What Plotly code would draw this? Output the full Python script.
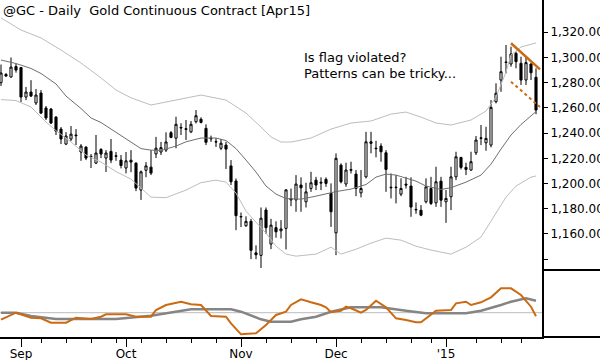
import plotly.graph_objects as go

# ---------------- data ----------------
open_ = [1280.0, 1286.5, 1284.5, 1292.8, 1292.0, 1268.6, 1272.6, 1263.9, 1271.8, 1259.9,
         1259.1, 1252.7, 1243.2, 1231.3, 1235.3, 1238.5, 1225.0, 1228.9, 1221.5, 1216.2,
         1227.0, 1220.2, 1225.5, 1222.0, 1218.6, 1212.3, 1218.5, 1216.2, 1194.8, 1210.5,
         1213.0, 1223.5, 1225.0, 1226.5, 1240.3, 1236.0, 1244.0, 1243.5, 1241.0, 1249.0,
         1251.0, 1243.8, 1236.0, 1233.2, 1228.0, 1230.5, 1214.0, 1202.0, 1173.5, 1166.5,
         1170.0, 1145.0, 1143.0, 1179.0, 1152.0, 1165.0, 1162.5, 1164.4, 1187.0, 1187.0,
         1198.8, 1185.5, 1196.1, 1202.7, 1200.3, 1203.3, 1192.2, 1160.9, 1214.6, 1199.6,
         1210.5, 1207.5, 1192.6, 1205.3, 1233.1, 1228.1, 1229.7, 1224.4, 1197.1, 1196.7,
         1191.6, 1199.5, 1198.0, 1179.5, 1178.8, 1185.5, 1196.0, 1184.7, 1201.9, 1185.5,
         1189.5, 1205.3, 1220.7, 1212.8, 1210.7, 1224.4, 1235.8, 1232.3, 1230.5, 1264.9,
         1282.1, 1296.0, 1294.8, 1303.3, 1295.4, 1282.1, 1294.8, 1284.3]
high = [1294.4, 1287.7, 1300.0, 1295.0, 1292.4, 1276.6, 1282.0, 1275.0, 1274.2, 1261.5,
        1259.9, 1253.5, 1244.8, 1240.8, 1245.6, 1243.2, 1231.3, 1229.5, 1223.4, 1238.5,
        1228.1, 1226.5, 1235.3, 1225.0, 1222.6, 1225.0, 1226.5, 1216.8, 1210.3, 1217.0,
        1226.5, 1237.0, 1233.0, 1240.6, 1241.6, 1253.0, 1247.8, 1250.4, 1249.6, 1258.3,
        1252.5, 1247.0, 1238.0, 1236.0, 1235.3, 1233.1, 1218.6, 1204.0, 1177.0, 1174.0,
        1172.0, 1151.0, 1181.0, 1181.0, 1172.0, 1170.0, 1171.0, 1195.3, 1196.0, 1206.7,
        1204.9, 1200.6, 1209.3, 1205.3, 1204.9, 1204.9, 1200.1, 1223.9, 1216.0, 1216.5,
        1217.3, 1210.7, 1210.7, 1241.0, 1241.0, 1233.9, 1231.9, 1226.5, 1208.0, 1206.7,
        1204.1, 1205.3, 1204.9, 1185.0, 1182.9, 1204.1, 1205.3, 1213.3, 1205.3, 1194.8,
        1213.3, 1225.2, 1221.2, 1216.5, 1225.2, 1237.7, 1246.4, 1245.0, 1266.2, 1279.5,
        1300.6, 1309.9, 1308.6, 1304.6, 1300.6, 1300.6, 1295.4, 1291.4]
low = [1277.4, 1284.5, 1284.0, 1288.0, 1264.7, 1266.2, 1268.6, 1262.3, 1255.1, 1250.4,
       1247.2, 1238.5, 1231.3, 1230.5, 1233.7, 1230.5, 1218.0, 1218.6, 1212.3, 1215.4,
       1220.2, 1209.1, 1216.2, 1218.0, 1212.0, 1208.0, 1209.0, 1194.0, 1187.0, 1205.0,
       1206.7, 1220.2, 1222.6, 1225.0, 1236.0, 1228.0, 1238.5, 1234.5, 1240.0, 1247.7,
       1247.7, 1230.5, 1233.0, 1229.0, 1226.5, 1211.5, 1198.8, 1163.0, 1165.5, 1165.6,
       1140.0, 1140.0, 1133.0, 1160.0, 1148.0, 1157.0, 1156.4, 1147.7, 1182.0, 1177.6,
       1177.6, 1181.0, 1193.4, 1194.8, 1194.8, 1197.4, 1165.6, 1143.2, 1200.1, 1197.4,
       1208.0, 1190.0, 1189.0, 1204.1, 1224.0, 1220.8, 1217.3, 1193.4, 1188.2, 1184.2,
       1190.0, 1196.0, 1173.6, 1176.0, 1174.1, 1184.2, 1182.9, 1181.5, 1181.5, 1168.8,
       1178.9, 1202.7, 1211.2, 1206.7, 1210.0, 1222.6, 1230.5, 1226.0, 1228.7, 1263.6,
       1272.8, 1287.4, 1292.7, 1291.4, 1278.2, 1278.2, 1282.1, 1255.0]
close = [1287.7, 1285.3, 1292.4, 1290.0, 1268.6, 1272.6, 1269.4, 1270.2, 1255.9, 1252.0,
         1248.0, 1241.6, 1235.3, 1237.7, 1239.2, 1238.0, 1229.7, 1220.2, 1221.0, 1224.2,
         1223.4, 1224.2, 1218.6, 1221.6, 1214.3, 1218.0, 1217.0, 1196.4, 1209.3, 1214.0,
         1208.3, 1228.0, 1228.5, 1233.0, 1236.6, 1247.0, 1244.5, 1243.0, 1247.0, 1253.8,
         1248.5, 1232.7, 1235.5, 1233.0, 1232.0, 1227.3, 1201.4, 1174.5, 1173.8, 1170.0,
         1147.0, 1143.5, 1172.5, 1165.0, 1167.0, 1161.7, 1164.0, 1195.0, 1188.0, 1199.6,
         1196.6, 1193.4, 1200.6, 1198.8, 1200.9, 1200.1, 1177.6, 1220.0, 1201.4, 1210.7,
         1211.0, 1196.1, 1196.1, 1233.1, 1231.9, 1227.7, 1225.2, 1211.2, 1196.7, 1197.0,
         1196.1, 1198.8, 1181.3, 1179.2, 1174.9, 1197.4, 1184.2, 1201.4, 1186.8, 1188.2,
         1205.3, 1221.2, 1212.8, 1211.2, 1217.3, 1234.5, 1236.2, 1235.8, 1260.4, 1271.6,
         1288.7, 1296.3, 1302.8, 1296.7, 1282.1, 1295.9, 1287.9, 1258.3]
bar_idx = list(range(len(open_)))

# moving average (dark grey) and bands (light grey), read at selected bars
ma_idx = [0, 3, 6, 8, 11, 13, 16, 18, 20, 23, 26, 28, 30, 32, 35, 37, 40, 43, 45, 47, 49, 51,
          53, 55, 57, 60, 63, 67, 70, 73, 75, 77, 79, 81, 83, 85, 88, 90, 93, 96, 98, 100,
          102, 104, 106, 107]
ma_val = [1298.0, 1295.2, 1291.3, 1287.3, 1279.0, 1269.4, 1259.5, 1252.0, 1248.4, 1240.4,
          1232.9, 1227.7, 1226.5, 1226.2, 1229.7, 1233.1, 1236.1, 1236.1, 1234.1, 1227.7,
          1218.6, 1209.1, 1198.0, 1191.6, 1188.1, 1187.6, 1190.0, 1193.6, 1195.6, 1199.2,
          1205.1, 1207.5, 1206.7, 1204.3, 1201.9, 1198.0, 1195.3, 1196.7, 1201.1, 1206.7,
          1215.4, 1227.3, 1238.5, 1246.8, 1253.5, 1257.1]
upper_idx = [0, 4, 8, 12, 16, 20, 23, 26, 30, 34, 38, 40, 45, 49, 52, 54, 56, 58, 62, 66, 70,
             74, 78, 81, 84, 87, 90, 94, 97, 99, 101, 102, 104, 107]
upper_val = [1331.4, 1321.8, 1315.5, 1305.9, 1295.6, 1283.8, 1274.2, 1268.0, 1262.3, 1265.5,
             1268.6, 1270.2, 1266.2, 1255.9, 1244.8, 1236.9, 1232.9, 1232.9, 1236.1, 1243.2,
             1248.0, 1249.6, 1255.1, 1256.7, 1252.7, 1248.0, 1246.4, 1250.4, 1257.5, 1268.6,
             1288.5, 1302.0, 1308.3, 1311.5]
lower_idx = [0, 3, 6, 9, 11, 14, 17, 20, 23, 26, 28, 30, 33, 37, 40, 43, 45, 47, 49, 51, 53,
             55, 57, 59, 63, 66, 68, 71, 74, 77, 80, 83, 86, 90, 93, 96, 99, 101, 103, 106, 107]
lower_val = [1266.6, 1265.8, 1260.7, 1248.8, 1242.0, 1233.0, 1222.6, 1217.0, 1209.5, 1203.5,
             1196.4, 1189.2, 1188.8, 1194.8, 1200.7, 1202.7, 1201.1, 1192.4, 1178.1, 1169.4,
             1160.6, 1150.3, 1144.0, 1142.4, 1144.0, 1149.5, 1144.0, 1147.9, 1152.7, 1156.7,
             1155.1, 1150.3, 1147.2, 1144.0, 1149.5, 1157.5, 1176.5, 1189.2, 1198.0, 1205.1,
             1206.0]

# flag trend lines
flag_x = [102, 107.8]
flag_top = [1311.3, 1290.6]
flag_bot = [1280.8, 1260.7]

# lower oscillator panel
osc_idx = [0, 3, 6, 8, 10, 13, 15, 18, 20, 21, 25, 27, 30, 31, 33, 36, 38, 40, 42, 45, 46, 48,
           51, 53, 55, 57, 58, 60, 62, 64, 65, 66, 68, 69, 70, 72, 73, 75, 77, 79, 81, 83, 84,
           87, 90, 91, 93, 94, 96, 98, 100, 102, 104, 106, 107]
osc_val = [-7, 0, -5, -5.6, -10, -10, -5, -6.3, -4, -1.6, -1.6, -4, -4, 2.7, 7.7, 11, 8.4, 7.7,
           -3.3, -4, -10.6, -21.6, -20.6, -12.3, -2.3, 1, 7.7, 13.4, 10.4, 7.7, 5.4, 0.4, 2, 6,
           4.4, 0, 2.7, 12, 5.4, -5.6, -7.3, -9.6, -9.6, 2, 2.7, 9.4, 11, 7.7, 10.4, 15.4, 24.4,
           24.4, 17.7, 6, -3.5]
sig_idx = [0, 3, 6, 11, 16, 23, 30, 34, 38, 46, 48, 52, 54, 58, 60, 63, 66, 70, 76, 81, 85, 93,
           96, 100, 102, 105, 107]
sig_val = [0, 0, -3.3, -6.3, -6.3, -6.3, -3, 0, 3.4, 3.4, 1, -6.6, -9, -9, -6.6, -4, 1, 5.4, 5.4,
           2, -0.6, -0.6, 2, 7.7, 11, 14.4, 12]

# axis ticks
month_idx = [4, 25, 48, 67, 89]
month_labels = ['Sep', 'Oct', 'Nov', 'Dec', "'15"]
week_idx = [8, 13, 18, 23, 28, 33, 38, 43, 53, 58, 63, 72, 77, 82, 86, 95, 100, 104]
price_ticks = [1140, 1160, 1180, 1200, 1220, 1240, 1260, 1280, 1300, 1320]
price_labels = [''] + ['{:,.2f}'.format(v) for v in price_ticks[1:]]

# ---------------- figure ----------------
FONT = 'DejaVu Sans'
ORANGE = '#cc6a12'
XR = [-0.2, 108.2]
DOM = 67 / 337

fig = go.Figure()
fig.add_trace(go.Scatter(x=upper_idx, y=upper_val, mode='lines', line=dict(color='#bdbdbd', width=1),
                         xaxis='x', yaxis='y', hoverinfo='skip'))
fig.add_trace(go.Scatter(x=lower_idx, y=lower_val, mode='lines', line=dict(color='#bdbdbd', width=1),
                         xaxis='x', yaxis='y', hoverinfo='skip'))
fig.add_trace(go.Scatter(x=ma_idx, y=ma_val, mode='lines', line=dict(color='#6f6f6f', width=1),
                         xaxis='x', yaxis='y', hoverinfo='skip'))
fig.add_trace(go.Candlestick(
    x=bar_idx, open=open_, high=high, low=low, close=close,
    increasing=dict(line=dict(color='black', width=1), fillcolor='white'),
    decreasing=dict(line=dict(color='black', width=1), fillcolor='black'),
    whiskerwidth=0, xaxis='x', yaxis='y'))
fig.add_trace(go.Scatter(x=flag_x, y=flag_top, mode='lines', line=dict(color=ORANGE, width=2.5),
                         xaxis='x', yaxis='y'))
fig.add_trace(go.Scatter(x=flag_x, y=flag_bot, mode='lines', line=dict(color=ORANGE, width=2, dash='dot'),
                         xaxis='x', yaxis='y'))
fig.add_trace(go.Scatter(x=sig_idx, y=sig_val, mode='lines', line=dict(color='#858585', width=2.5),
                         xaxis='x2', yaxis='y2'))
fig.add_trace(go.Scatter(x=osc_idx, y=osc_val, mode='lines', line=dict(color=ORANGE, width=2),
                         xaxis='x2', yaxis='y2'))

fig.update_layout(
    width=600, height=360,
    margin=dict(l=0, r=58, t=0, b=23, pad=0, autoexpand=False),
    paper_bgcolor='white', plot_bgcolor='white',
    showlegend=False,
    boxgap=0.4,
    font=dict(family=FONT, size=12, color='black'),
    xaxis=dict(domain=[0, 1], anchor='y', range=XR, showticklabels=False, showgrid=False,
               zeroline=False, showline=False, ticks='', rangeslider=dict(visible=False),
               automargin=False),
    yaxis=dict(domain=[DOM, 1], anchor='x', side='right', range=[1131.4, 1345.6],
               tickmode='array', tickvals=price_ticks, ticktext=price_labels,
               ticks='outside', ticklen=4, tickcolor='black', tickwidth=1,
               showline=True, linecolor='black', linewidth=2,
               showgrid=False, zeroline=False, tickfont=dict(family=FONT, size=12),
               automargin=False),
    xaxis2=dict(domain=[0, 1], anchor='y2', range=XR, tickmode='array', tickvals=month_idx,
                ticktext=month_labels, ticks='outside', ticklen=8, tickcolor='black', tickwidth=1,
                showline=True, linecolor='black', linewidth=2, showgrid=False, zeroline=False,
                tickfont=dict(family=FONT, size=12), automargin=False, ticklabelstandoff=-3,
                minor=dict(tickmode='array', tickvals=week_idx, ticks='outside', ticklen=4,
                           tickcolor='black', tickwidth=1, showgrid=False)),
    yaxis2=dict(domain=[0, DOM], anchor='x2', side='right', range=[-24.3, 42.7],
                showticklabels=False, ticks='', showline=True, linecolor='black', linewidth=2,
                showgrid=False, zeroline=False, automargin=False),
    shapes=[
        dict(type='line', xref='paper', yref='y2', x0=0, x1=1, y0=0, y1=0,
             line=dict(color='#bcbcbc', width=1), layer='below'),
        dict(type='line', xref='paper', yref='paper', x0=1, x1=1.12, y0=DOM, y1=DOM,
             line=dict(color='black', width=2)),
        dict(type='line', xref='paper', yref='paper', x0=1, x1=1.12, y0=0, y1=0,
             line=dict(color='black', width=2)),
    ],
    annotations=[
        dict(text='@GC - Daily\u00a0\u00a0Gold Continuous Contract [Apr15]', xref='paper', yref='paper',
             x=0, y=1, xanchor='left', yanchor='top', xshift=1, yshift=-1, showarrow=False,
             font=dict(family=FONT, size=13, color='black')),
        dict(text='Is flag violated?', xref='paper', yref='paper', x=302 / 542, y=1 - 47.5 / 337,
             xanchor='left', yanchor='top', showarrow=False,
             font=dict(family=FONT, size=13, color='black')),
        dict(text='Patterns can be tricky...', xref='paper', yref='paper', x=302 / 542,
             y=1 - 63.5 / 337, xanchor='left', yanchor='top', showarrow=False,
             font=dict(family=FONT, size=13, color='black')),
    ],
)

fig.write_html("out.html", config={'displayModeBar': False},
               post_script="document.body.style.margin='0';document.body.style.overflow='hidden';")
